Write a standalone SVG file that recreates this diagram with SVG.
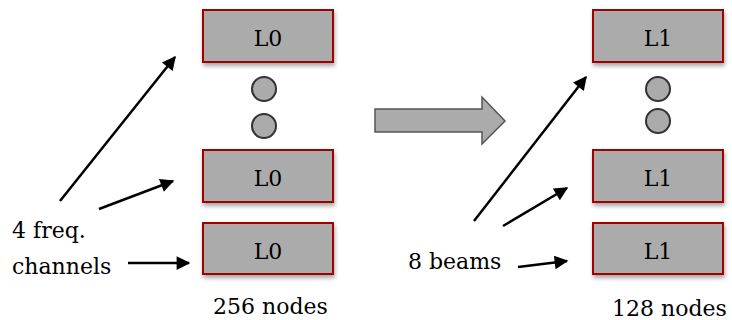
<svg xmlns="http://www.w3.org/2000/svg" width="732" height="320" viewBox="0 0 732 320">
  <defs>
    <filter id="shadow" x="-10%" y="-20%" width="125%" height="150%">
      <feDropShadow dx="1" dy="3" stdDeviation="2" flood-color="#000" flood-opacity="0.35"/>
    </filter>
    <marker id="head" viewBox="0 0 10 10" refX="9" refY="5" markerWidth="7.5" markerHeight="5.5" markerUnits="strokeWidth" orient="auto">
      <path d="M0,0 L10,5 L0,10 z" fill="#000"/>
    </marker>
  </defs>
  <style>
    .node rect { fill: #ababab; stroke: #a00000; stroke-width: 2; filter: url(#shadow); }
    .dot { fill: #ababab; stroke: #333; stroke-width: 2; }
    .lbl { font-family: "DejaVu Serif", "Liberation Serif", serif; font-size: 22px; fill: #000; }
    .mid { text-anchor: middle; }
    .conn line { stroke: #000; stroke-width: 2.5; marker-end: url(#head); }
  </style>
  <rect width="732" height="320" fill="#fff"/>

  <!-- L0 column -->
  <g id="l0-top" class="node">
    <rect x="203" y="10" width="130" height="52"/>
    <text class="lbl mid" x="268" y="46">L0</text>
  </g>
  <g id="l0-dots">
    <circle class="dot" cx="264" cy="89" r="12"/>
    <circle class="dot" cx="264" cy="126" r="12"/>
  </g>
  <g id="l0-mid" class="node">
    <rect x="203" y="150" width="130" height="52"/>
    <text class="lbl mid" x="268" y="186">L0</text>
  </g>
  <g id="l0-bot" class="node">
    <rect x="203" y="223" width="130" height="51"/>
    <text class="lbl mid" x="268" y="259">L0</text>
  </g>
  <text id="l0-count" class="lbl" x="213" y="314">256 nodes</text>

  <!-- L1 column -->
  <g id="l1-top" class="node">
    <rect x="593" y="10" width="130" height="52"/>
    <text class="lbl mid" x="658" y="46">L1</text>
  </g>
  <g id="l1-dots">
    <circle class="dot" cx="658" cy="89" r="12"/>
    <circle class="dot" cx="658" cy="121" r="12"/>
  </g>
  <g id="l1-mid" class="node">
    <rect x="593" y="150" width="130" height="52"/>
    <text class="lbl mid" x="658" y="186">L1</text>
  </g>
  <g id="l1-bot" class="node">
    <rect x="593" y="223" width="130" height="51"/>
    <text class="lbl mid" x="658" y="259">L1</text>
  </g>
  <text id="l1-count" class="lbl" x="612" y="316">128 nodes</text>

  <!-- input labels -->
  <g id="freq-label">
    <text class="lbl" x="12" y="238">4 freq.</text>
    <text class="lbl" x="12" y="274">channels</text>
  </g>
  <text id="beams-label" class="lbl" x="408" y="269">8 beams</text>

  <!-- transition arrow -->
  <g id="transition">
    <path d="M375,109 L482,109 L482,97 L505,121 L482,144 L482,132 L375,132 Z" fill="#ababab" stroke="#555" stroke-width="1.5"/>
  </g>

  <!-- connectors -->
  <g id="connectors" class="conn">
    <line x1="60" y1="201" x2="175" y2="57"/>
    <line x1="99" y1="209" x2="173" y2="181"/>
    <line x1="128" y1="263" x2="189" y2="263"/>
    <line x1="474" y1="221" x2="586" y2="77"/>
    <line x1="503" y1="226" x2="567" y2="188"/>
    <line x1="518" y1="267" x2="567" y2="261"/>
  </g>
</svg>
